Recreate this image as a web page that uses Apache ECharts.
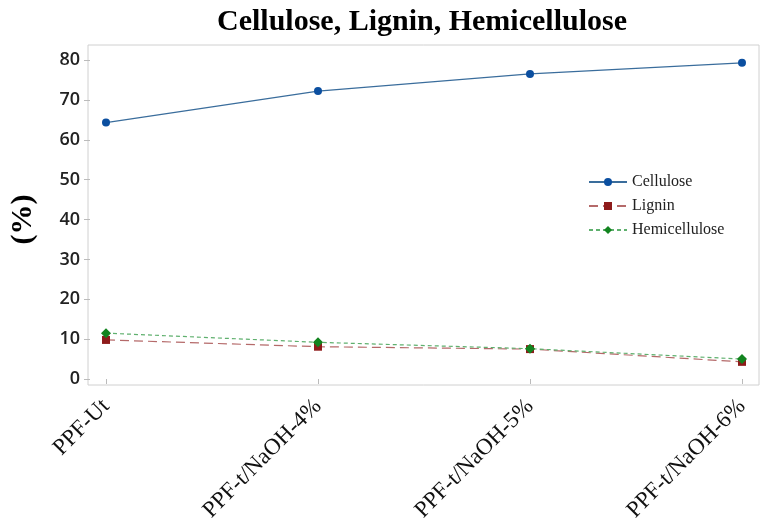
<!DOCTYPE html>
<html><head><meta charset="utf-8">
<script src="https://cdn.jsdelivr.net/npm/echarts@6/dist/echarts.min.js"></script>
<style>html,body{margin:0;padding:0;background:#fff}#c{width:762px;height:532px}</style>
</head><body><div id="c"></div>
<script>
const categories = ['PPF-Ut', 'PPF-t/NaOH-4%', 'PPF-t/NaOH-5%', 'PPF-t/NaOH-6%'];
const cellulose = [64.3, 72.2, 76.5, 79.3];
const lignin = [9.8, 8.1, 7.5, 4.3];
const hemicellulose = [11.5, 9.2, 7.6, 5.0];
const yTicks = { min: 0, max: 80, interval: 10 };

const serif = '"Liberation Serif", "DejaVu Serif", serif';
const chart = echarts.init(document.getElementById('c'));
chart.setOption({
  animation: false,
  backgroundColor: '#fff',
  title: {
    text: 'Cellulose, Lignin, Hemicellulose',
    left: 417, top: 2, textAlign: 'center',
    textStyle: { fontFamily: serif, fontWeight: 'bold', fontSize: 30, color: '#000' }
  },
  legend: {
    orient: 'vertical', left: 583, top: 169, itemWidth: 38, itemHeight: 10, itemGap: 8,
    textStyle: { fontFamily: serif, fontSize: 16, color: '#222' },
    data: ['Cellulose', 'Lignin', 'Hemicellulose']
  },
  grid: [
    { left: 104, right: 20, top: 60, bottom: 153 },
    { left: 88, right: 3, top: 45, bottom: 147, show: true, borderColor: '#d0d0d0', borderWidth: 1, z: 0 }
  ],
  xAxis: [
    {
      type: 'category', data: categories, boundaryGap: false, gridIndex: 0, offset: 6,
      axisLine: { show: false },
      axisTick: { show: true, length: 5, lineStyle: { color: '#bbb' } },
      axisLabel: {
        rotate: 45, margin: 18, fontFamily: serif, fontSize: 23, color: '#111'
      },
      splitLine: { show: false }
    },
    { type: 'value', gridIndex: 1, show: false, min: 0, max: 1 }
  ],
  yAxis: [
    {
      type: 'value', gridIndex: 0, min: yTicks.min, max: yTicks.max, interval: yTicks.interval, offset: 16,
      axisLine: { show: false },
      axisTick: { show: true, length: 6, lineStyle: { color: '#bbb' } },
      splitLine: { show: false },
      axisLabel: { margin: 10, fontFamily: '"Open Sans", sans-serif', fontWeight: 600, fontSize: 18, color: '#222' },
      name: '(%)', nameLocation: 'middle', nameGap: 52,
      nameTextStyle: { fontFamily: serif, fontWeight: 'bold', fontSize: 30, color: '#000' }
    },
    { type: 'value', gridIndex: 1, show: false, min: 0, max: 1 }
  ],
  series: [
    {
      name: 'Cellulose', type: 'line', data: cellulose, xAxisIndex: 0, yAxisIndex: 0,
      symbol: 'circle', symbolSize: 8,
      itemStyle: { color: '#0b4fa0' },
      lineStyle: { color: '#3a6d9c', width: 1.2, type: 'solid' }
    },
    {
      name: 'Lignin', type: 'line', data: lignin, xAxisIndex: 0, yAxisIndex: 0,
      symbol: 'rect', symbolSize: 8,
      itemStyle: { color: '#8e1b1b' },
      lineStyle: { color: '#b56a6a', width: 1.2, type: [9, 5] }
    },
    {
      name: 'Hemicellulose', type: 'line', data: hemicellulose, xAxisIndex: 0, yAxisIndex: 0,
      symbol: 'diamond', symbolSize: 10,
      itemStyle: { color: '#12841f' },
      lineStyle: { color: '#5fb06e', width: 1.2, type: [4, 3] }
    }
  ]
});
</script></body></html>
